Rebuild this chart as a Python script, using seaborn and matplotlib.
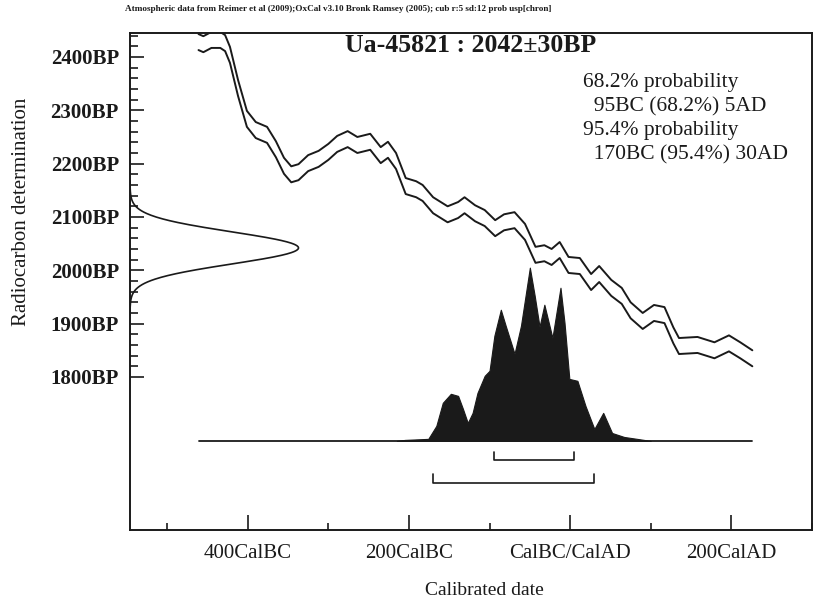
import numpy as np
import pandas as pd
import matplotlib
matplotlib.use("Agg")
import matplotlib.pyplot as plt
import seaborn as sns

# ---------------- data ----------------
cal_years = [-461, -455, -445, -434, -428, -422, -412, -401, -390, -376, -365, -355,
             -346, -337, -325, -312, -300, -289, -276, -264, -248, -235, -226, -216,
             -204, -191, -183, -170, -152, -139, -131, -118, -106, -93, -82, -69,
             -56, -43, -32, -23, -13, -2, 12, 26, 36, 51, 64, 75, 90, 104, 117,
             128, 135, 158, 179, 197, 211, 226]
cal_bp = [2428, 2424, 2432, 2432, 2426, 2404, 2342, 2284, 2263, 2254, 2227, 2196,
          2180, 2184, 2201, 2209, 2222, 2237, 2246, 2235, 2241, 2216, 2226, 2205,
          2158, 2152, 2145, 2122, 2105, 2113, 2122, 2107, 2098, 2079, 2090, 2094,
          2072, 2029, 2032, 2025, 2038, 2010, 2008, 1978, 1993, 1967, 1952, 1925,
          1905, 1920, 1916, 1878, 1858, 1860, 1850, 1863, 1850, 1835]
cal_sigma = 15

dist_years = [-215, -205, -176, -166, -158, -148, -139, -133, -127, -121, -115, -106,
              -100, -94, -86, -80, -69, -61, -50, -44, -38, -32, -22, -12, -7, -1,
              9, 19, 30, 41, 52, 67, 83, 100]
dist_prob = [0, 0.006, 0.012, 0.087, 0.22, 0.272, 0.26, 0.185, 0.104, 0.162, 0.277,
             0.376, 0.405, 0.607, 0.757, 0.665, 0.503, 0.665, 1.0, 0.838, 0.659,
             0.786, 0.595, 0.884, 0.682, 0.358, 0.347, 0.202, 0.069, 0.162, 0.046,
             0.023, 0.012, 0]

measurement_bp = 2042
measurement_err = 30
range68 = [-95, 5]
range95 = [-170, 30]

x_major = [-400, -200, 0, 200]
x_major_labels = ["400CalBC", "200CalBC", "CalBC/CalAD", "200CalAD"]
x_minor = [-500, -300, -100, 100, 300]
y_major = [1800, 1900, 2000, 2100, 2200, 2300, 2400]
y_major_labels = ["1800BP", "1900BP", "2000BP", "2100BP", "2200BP", "2300BP", "2400BP"]
y_minor = list(range(1820, 2441, 20))

title_text = "Ua-45821 : 2042\u00b130BP"
prob_lines = ["68.2% probability", "  95BC (68.2%) 5AD",
              "95.4% probability", "  170BC (95.4%) 30AD"]
header_text = ("Atmospheric data from Reimer et al (2009);OxCal v3.10 Bronk Ramsey (2005); "
               "cub r:5 sd:12 prob usp[chron]")

# ---------------- style ----------------
sns.set_style("ticks")
plt.rcParams["font.family"] = ["Liberation Serif", "DejaVu Serif"]
ink = "#1a1a1a"

W, H = 816, 600
fig = plt.figure(figsize=(W / 100, H / 100), dpi=100)
ax = fig.add_axes([130 / W, 1 - 530 / H, 682 / W, 497 / H])

xlim = (-546, 300)
ylim = (1513, 2445)
ax.set_xlim(*xlim)
ax.set_ylim(*ylim)

# calibration curve (+/- 1 sigma lines)
df = pd.DataFrame({"year": cal_years,
                   "upper": np.array(cal_bp) + cal_sigma,
                   "lower": np.array(cal_bp) - cal_sigma})
sns.lineplot(data=df, x="year", y="upper", color=ink, lw=1.4, ax=ax,
             sort=False, estimator=None)
sns.lineplot(data=df, x="year", y="lower", color=ink, lw=1.4, ax=ax,
             sort=False, estimator=None)

# measurement gaussian on the y axis
g_bp = np.linspace(measurement_bp - 4.2 * measurement_err,
                   measurement_bp + 4.2 * measurement_err, 300)
g_x = xlim[0] + 209 * np.exp(-0.5 * ((g_bp - measurement_bp) / measurement_err) ** 2)
sns.lineplot(x=g_x, y=g_bp, color=ink, lw=1.2, ax=ax, orient="y",
             estimator=None, sort=False)

# calibrated probability distribution
base_bp = 1680
dist_scale = 325
dprob = np.array(dist_prob)
ax.fill_between(dist_years, base_bp, base_bp + dprob * dist_scale,
                color=ink, lw=0.8, edgecolor=ink)
sns.lineplot(x=[min(cal_years), max(cal_years)], y=[base_bp, base_bp],
             color=ink, lw=1.3, ax=ax, estimator=None)

# range brackets
for rng, yb, hb in [(range68, 1644, 15), (range95, 1601, 17)]:
    ax.plot([rng[0], rng[0], rng[1], rng[1]], [yb + hb, yb, yb, yb + hb],
            color=ink, lw=1.2)

# ticks
ax.set_xticks(x_major)
ax.set_xticklabels(x_major_labels)
ax.set_xticks(x_minor, minor=True)
ax.set_yticks(y_major)
ax.set_yticklabels(y_major_labels)
ax.set_yticks(y_minor, minor=True)
ax.tick_params(axis="both", which="both", direction="in", color=ink,
               left=True, bottom=True, top=False, right=False)
ax.tick_params(axis="x", which="major", length=11, width=1.2, pad=10, labelsize=15)
ax.tick_params(axis="x", which="minor", length=5, width=1.2)
ax.tick_params(axis="y", which="major", length=10, width=1.2, pad=8, labelsize=15)
ax.tick_params(axis="y", which="minor", length=6, width=1.2)
for lab in ax.get_yticklabels():
    lab.set_fontweight("bold")
for lab in ax.get_xticklabels() + ax.get_yticklabels():
    lab.set_color(ink)

for sp in ax.spines.values():
    sp.set_visible(True)
    sp.set_color(ink)
    sp.set_linewidth(1.4)

ax.set_xlabel("Calibrated date", fontsize=14, color=ink)
ax.set_ylabel("Radiocarbon determination", fontsize=15, color=ink)
ax.xaxis.set_label_coords(0.52, -0.105)
ax.yaxis.set_label_coords(-0.145, 0.64)

# texts
fig.text(345 / W, 1 - 46 / H, title_text, fontsize=18.5, fontweight="bold",
         va="center", ha="left", color=ink)
ys = [83, 107, 130, 155]
for t, yy in zip(prob_lines, ys):
    fig.text(583 / W, 1 - yy / H, t, fontsize=15.5, va="center", ha="left", color=ink)
fig.text(125 / W, 1 - 9 / H, header_text, fontsize=6.6, fontweight="bold",
         va="center", ha="left", color=ink)

fig.savefig("out.png", dpi=100, facecolor="white")
